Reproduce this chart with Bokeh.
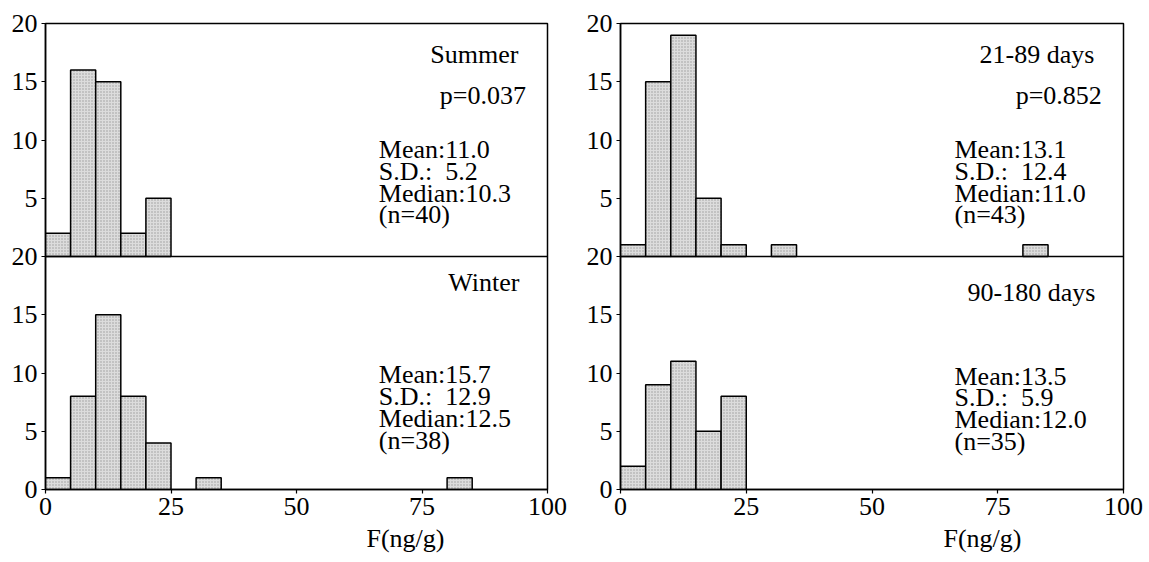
from bokeh.plotting import figure
from bokeh.models import Range1d, FixedTicker, Label, Span, Title
from bokeh.layouts import row
from bokeh.embed import file_html
from bokeh.resources import INLINE

# ---------------- data ----------------
BIN_WIDTH = 5
x_ticks = [0, 25, 50, 75, 100]
y_ticks_bottom = [0, 5, 10, 15, 20]
y_ticks_top = [5, 10, 15, 20]

summer_bins = [0, 5, 10, 15, 20]
summer_counts = [2, 16, 15, 2, 5]
winter_bins = [0, 5, 10, 15, 20, 30, 80]
winter_counts = [1, 8, 15, 8, 4, 1, 1]

d21_bins = [0, 5, 10, 15, 20, 30, 80]
d21_counts = [1, 15, 19, 5, 1, 1, 1]
d90_bins = [0, 5, 10, 15, 20]
d90_counts = [2, 9, 11, 5, 8]

summer_title = "Summer"
summer_p = "p=0.037"
summer_stats = ["Mean:11.0", "S.D.: \u00a05.2", "Median:10.3", "(n=40)"]
winter_title = "Winter"
winter_stats = ["Mean:15.7", "S.D.: \u00a012.9", "Median:12.5", "(n=38)"]

d21_title = "21-89 days"
d21_p = "p=0.852"
d21_stats = ["Mean:13.1", "S.D.: \u00a012.4", "Median:11.0", "(n=43)"]
d90_title = "90-180 days"
d90_stats = ["Mean:13.5", "S.D.: \u00a05.9", "Median:12.0", "(n=35)"]

x_label = "F(ng/g)"

FONT = "Liberation Serif"
FS = "26px"
BAR_FILL = "#dcdcdc"


def add_text(p, x, y, text, align, range_name="default"):
    p.add_layout(Label(x=x, y=y, text=text, text_align=align, text_baseline="middle",
                       text_font=FONT, text_font_size=FS, text_color="black",
                       y_range_name=range_name))


def make_panel(top_bins, top_counts, bot_bins, bot_counts,
               top_title, top_p, top_stats, bot_title, bot_stats, bot_title_y, bot_stats_y,
               width, left, right, label_offset):
    p = figure(width=width, height=559, x_range=Range1d(0, 100), y_range=Range1d(0, 40),
               output_backend="svg", toolbar_location=None,
               min_border_left=left, min_border_right=right,
               min_border_top=23, min_border_bottom=70)
    p.extra_y_ranges = {"top": Range1d(-20, 20)}
    p.grid.visible = False
    p.background_fill_color = "white"
    p.border_fill_color = "white"
    p.outline_line_color = "black"
    p.outline_line_width = 1.5

    style = dict(fill_color=BAR_FILL, line_color="black", line_width=1.5,
                 hatch_pattern="dot", hatch_color="#808080", hatch_scale=3,
                 hatch_weight=0.6, hatch_alpha=0.7)
    p.quad(left=bot_bins, right=[b + BIN_WIDTH for b in bot_bins],
           bottom=0, top=bot_counts, **style)
    p.quad(left=top_bins, right=[b + BIN_WIDTH for b in top_bins],
           bottom=0, top=top_counts, y_range_name="top", **style)

    p.add_layout(Span(location=20, dimension="width", line_color="black", line_width=1.5))

    # axes
    ticks = y_ticks_bottom + [t + 20 for t in y_ticks_top]
    labels = [str(t) for t in y_ticks_bottom] + [str(t) for t in y_ticks_top]
    p.yaxis.ticker = FixedTicker(ticks=ticks)
    p.yaxis.major_label_overrides = {t: l for t, l in zip(ticks, labels)}
    p.xaxis.ticker = FixedTicker(ticks=x_ticks)
    for ax in (p.xaxis, p.yaxis):
        ax.axis_line_color = "black"
        ax.axis_line_width = 1.5
        ax.major_tick_line_color = "black"
        ax.major_tick_line_width = 1.2
        ax.major_tick_out = 4
        ax.major_tick_in = 0
        ax.minor_tick_line_color = None
        ax.major_label_text_font = FONT
        ax.major_label_text_font_size = FS
        ax.major_label_text_color = "black"
    p.yaxis.major_label_standoff = 4
    p.xaxis.major_label_standoff = 4

    # texts - top panel (local 0..20 on "top" range)
    add_text(p, 94.2, 17.3, top_title, "right", "top")
    add_text(p, 95.7, 13.85, top_p, "right", "top")
    for i, s in enumerate(top_stats):
        add_text(p, 66.4, 9.15 - i * 1.86, s, "left", "top")
    # bottom panel
    add_text(p, 94.4, bot_title_y, bot_title, "right")
    for i, s in enumerate(bot_stats):
        add_text(p, 66.4, bot_stats_y - i * 1.88, s, "left")

    p.add_layout(Title(text=x_label, align="left", offset=label_offset,
                       text_font=FONT, text_font_size=FS, text_font_style="normal",
                       text_color="black", standoff=8), "below")
    return p


p_left = make_panel(summer_bins, summer_counts, winter_bins, winter_counts,
                    summer_title, summer_p, summer_stats, winter_title, winter_stats,
                    17.76, 9.83, width=569, left=45, right=22, label_offset=321)
p_right = make_panel(d21_bins, d21_counts, d90_bins, d90_counts,
                     d21_title, d21_p, d21_stats, d90_title, d90_stats,
                     16.9, 9.74, width=576, left=51, right=22, label_offset=323)

layout = row(p_left, p_right)
open("out.html", "w").write(file_html(layout, INLINE))
